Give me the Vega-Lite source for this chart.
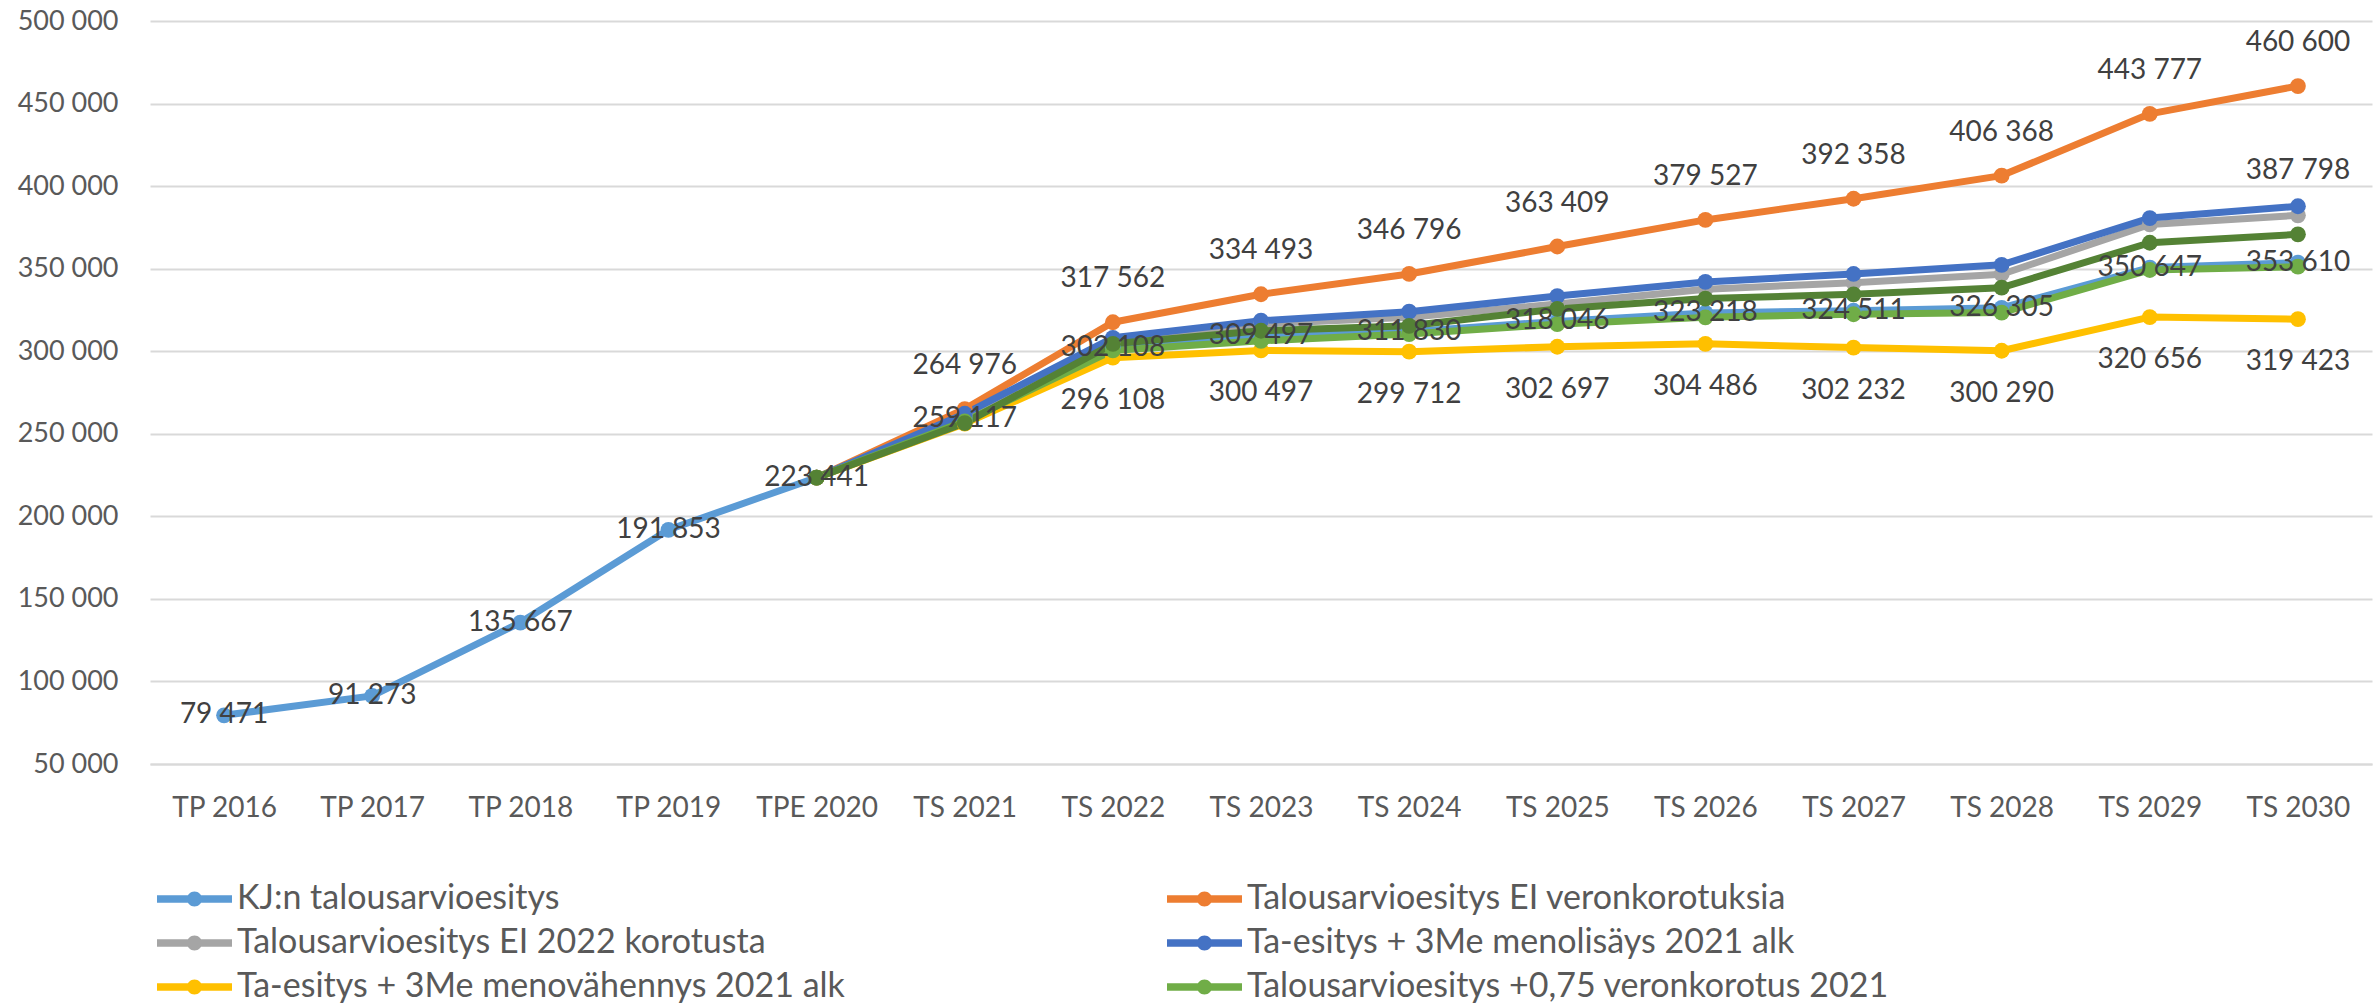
{
  "$schema": "https://vega.github.io/schema/vega-lite/v6.json",
  "width": 2222,
  "height": 743,
  "autosize": {"type": "none"},
  "padding": {"left": 150, "top": 21, "right": 7, "bottom": 241},
  "background": "white",
  "config": {
    "locale": {"number": {"decimal": ",", "thousands": " ", "grouping": [3], "currency": ["", " €"]}},
    "view": {"stroke": null},
    "font": "Lato"
  },
  "data": {"values": [
    {"series": "KJ:n talousarvioesitys", "period": "TP 2016", "value": 79471},
    {"series": "KJ:n talousarvioesitys", "period": "TP 2017", "value": 91273},
    {"series": "KJ:n talousarvioesitys", "period": "TP 2018", "value": 135667},
    {"series": "KJ:n talousarvioesitys", "period": "TP 2019", "value": 191853},
    {"series": "KJ:n talousarvioesitys", "period": "TPE 2020", "value": 223441},
    {"series": "KJ:n talousarvioesitys", "period": "TS 2021", "value": 259117},
    {"series": "KJ:n talousarvioesitys", "period": "TS 2022", "value": 302108},
    {"series": "KJ:n talousarvioesitys", "period": "TS 2023", "value": 309497},
    {"series": "KJ:n talousarvioesitys", "period": "TS 2024", "value": 311830},
    {"series": "KJ:n talousarvioesitys", "period": "TS 2025", "value": 318046},
    {"series": "KJ:n talousarvioesitys", "period": "TS 2026", "value": 323218},
    {"series": "KJ:n talousarvioesitys", "period": "TS 2027", "value": 324511},
    {"series": "KJ:n talousarvioesitys", "period": "TS 2028", "value": 326305},
    {"series": "KJ:n talousarvioesitys", "period": "TS 2029", "value": 350647},
    {"series": "KJ:n talousarvioesitys", "period": "TS 2030", "value": 353610},

    {"series": "Talousarvioesitys EI veronkorotuksia", "period": "TPE 2020", "value": 223441},
    {"series": "Talousarvioesitys EI veronkorotuksia", "period": "TS 2021", "value": 264976},
    {"series": "Talousarvioesitys EI veronkorotuksia", "period": "TS 2022", "value": 317562},
    {"series": "Talousarvioesitys EI veronkorotuksia", "period": "TS 2023", "value": 334493},
    {"series": "Talousarvioesitys EI veronkorotuksia", "period": "TS 2024", "value": 346796},
    {"series": "Talousarvioesitys EI veronkorotuksia", "period": "TS 2025", "value": 363409},
    {"series": "Talousarvioesitys EI veronkorotuksia", "period": "TS 2026", "value": 379527},
    {"series": "Talousarvioesitys EI veronkorotuksia", "period": "TS 2027", "value": 392358},
    {"series": "Talousarvioesitys EI veronkorotuksia", "period": "TS 2028", "value": 406368},
    {"series": "Talousarvioesitys EI veronkorotuksia", "period": "TS 2029", "value": 443777},
    {"series": "Talousarvioesitys EI veronkorotuksia", "period": "TS 2030", "value": 460600},

    {"series": "Talousarvioesitys EI 2022 korotusta", "period": "TPE 2020", "value": 223441},
    {"series": "Talousarvioesitys EI 2022 korotusta", "period": "TS 2021", "value": 261500},
    {"series": "Talousarvioesitys EI 2022 korotusta", "period": "TS 2022", "value": 306000},
    {"series": "Talousarvioesitys EI 2022 korotusta", "period": "TS 2023", "value": 316500},
    {"series": "Talousarvioesitys EI 2022 korotusta", "period": "TS 2024", "value": 320500},
    {"series": "Talousarvioesitys EI 2022 korotusta", "period": "TS 2025", "value": 328600},
    {"series": "Talousarvioesitys EI 2022 korotusta", "period": "TS 2026", "value": 337500},
    {"series": "Talousarvioesitys EI 2022 korotusta", "period": "TS 2027", "value": 341500},
    {"series": "Talousarvioesitys EI 2022 korotusta", "period": "TS 2028", "value": 346600},
    {"series": "Talousarvioesitys EI 2022 korotusta", "period": "TS 2029", "value": 376800},
    {"series": "Talousarvioesitys EI 2022 korotusta", "period": "TS 2030", "value": 382300},

    {"series": "Ta-esitys +  3Me menolisäys 2021 alk", "period": "TPE 2020", "value": 223441},
    {"series": "Ta-esitys +  3Me menolisäys 2021 alk", "period": "TS 2021", "value": 262117},
    {"series": "Ta-esitys +  3Me menolisäys 2021 alk", "period": "TS 2022", "value": 308108},
    {"series": "Ta-esitys +  3Me menolisäys 2021 alk", "period": "TS 2023", "value": 318497},
    {"series": "Ta-esitys +  3Me menolisäys 2021 alk", "period": "TS 2024", "value": 323948},
    {"series": "Ta-esitys +  3Me menolisäys 2021 alk", "period": "TS 2025", "value": 333395},
    {"series": "Ta-esitys +  3Me menolisäys 2021 alk", "period": "TS 2026", "value": 341950},
    {"series": "Ta-esitys +  3Me menolisäys 2021 alk", "period": "TS 2027", "value": 346790},
    {"series": "Ta-esitys +  3Me menolisäys 2021 alk", "period": "TS 2028", "value": 352320},
    {"series": "Ta-esitys +  3Me menolisäys 2021 alk", "period": "TS 2029", "value": 380638},
    {"series": "Ta-esitys +  3Me menolisäys 2021 alk", "period": "TS 2030", "value": 387798},

    {"series": "Ta-esitys + 3Me menovähennys 2021 alk", "period": "TPE 2020", "value": 223441},
    {"series": "Ta-esitys + 3Me menovähennys 2021 alk", "period": "TS 2021", "value": 256117},
    {"series": "Ta-esitys + 3Me menovähennys 2021 alk", "period": "TS 2022", "value": 296108},
    {"series": "Ta-esitys + 3Me menovähennys 2021 alk", "period": "TS 2023", "value": 300497},
    {"series": "Ta-esitys + 3Me menovähennys 2021 alk", "period": "TS 2024", "value": 299712},
    {"series": "Ta-esitys + 3Me menovähennys 2021 alk", "period": "TS 2025", "value": 302697},
    {"series": "Ta-esitys + 3Me menovähennys 2021 alk", "period": "TS 2026", "value": 304486},
    {"series": "Ta-esitys + 3Me menovähennys 2021 alk", "period": "TS 2027", "value": 302232},
    {"series": "Ta-esitys + 3Me menovähennys 2021 alk", "period": "TS 2028", "value": 300290},
    {"series": "Ta-esitys + 3Me menovähennys 2021 alk", "period": "TS 2029", "value": 320656},
    {"series": "Ta-esitys + 3Me menovähennys 2021 alk", "period": "TS 2030", "value": 319423},

    {"series": "Talousarvioesitys +0,75 veronkorotus 2021", "period": "TPE 2020", "value": 223441},
    {"series": "Talousarvioesitys +0,75 veronkorotus 2021", "period": "TS 2021", "value": 257500},
    {"series": "Talousarvioesitys +0,75 veronkorotus 2021", "period": "TS 2022", "value": 300500},
    {"series": "Talousarvioesitys +0,75 veronkorotus 2021", "period": "TS 2023", "value": 306300},
    {"series": "Talousarvioesitys +0,75 veronkorotus 2021", "period": "TS 2024", "value": 310400},
    {"series": "Talousarvioesitys +0,75 veronkorotus 2021", "period": "TS 2025", "value": 316400},
    {"series": "Talousarvioesitys +0,75 veronkorotus 2021", "period": "TS 2026", "value": 320500},
    {"series": "Talousarvioesitys +0,75 veronkorotus 2021", "period": "TS 2027", "value": 322400},
    {"series": "Talousarvioesitys +0,75 veronkorotus 2021", "period": "TS 2028", "value": 323400},
    {"series": "Talousarvioesitys +0,75 veronkorotus 2021", "period": "TS 2029", "value": 349200},
    {"series": "Talousarvioesitys +0,75 veronkorotus 2021", "period": "TS 2030", "value": 351200},

    {"series": "Sarja7", "period": "TPE 2020", "value": 223441},
    {"series": "Sarja7", "period": "TS 2021", "value": 256500},
    {"series": "Sarja7", "period": "TS 2022", "value": 304500},
    {"series": "Sarja7", "period": "TS 2023", "value": 312400},
    {"series": "Sarja7", "period": "TS 2024", "value": 315400},
    {"series": "Sarja7", "period": "TS 2025", "value": 325600},
    {"series": "Sarja7", "period": "TS 2026", "value": 331900},
    {"series": "Sarja7", "period": "TS 2027", "value": 334480},
    {"series": "Sarja7", "period": "TS 2028", "value": 338500},
    {"series": "Sarja7", "period": "TS 2029", "value": 365700},
    {"series": "Sarja7", "period": "TS 2030", "value": 370800}
  ]},
  "encoding": {
    "x": {
      "field": "period", "type": "ordinal",
      "sort": ["TP 2016","TP 2017","TP 2018","TP 2019","TPE 2020","TS 2021","TS 2022","TS 2023","TS 2024","TS 2025","TS 2026","TS 2027","TS 2028","TS 2029","TS 2030"],
      "scale": {"type": "point", "padding": 0.5},
      "axis": {"title": null, "grid": false, "ticks": false, "domain": true, "domainColor": "#D9D9D9", "domainWidth": 2, "labelAngle": 0, "labelFontSize": 28, "labelColor": "#595959", "labelPadding": 30, "labelFont": "Lato"}
    },
    "y": {
      "field": "value", "type": "quantitative",
      "scale": {"domain": [50000, 500000], "nice": false, "zero": false},
      "axis": {"title": null, "domain": false, "ticks": false, "grid": true, "gridColor": "#D9D9D9", "gridWidth": 2, "values": [50000,100000,150000,200000,250000,300000,350000,400000,450000,500000], "format": ",d", "labelFontSize": 27, "labelColor": "#595959", "labelPadding": 32, "labelFont": "Lato"}
    },
    "color": {
      "field": "series", "type": "nominal",
      "scale": {
        "domain": ["KJ:n talousarvioesitys","Talousarvioesitys EI veronkorotuksia","Talousarvioesitys EI 2022 korotusta","Ta-esitys +  3Me menolisäys 2021 alk","Ta-esitys + 3Me menovähennys 2021 alk","Talousarvioesitys +0,75 veronkorotus 2021","Sarja7"],
        "range": ["#5B9BD5","#ED7D31","#A5A5A5","#4472C4","#FFC000","#70AD47","#548235"]
      },
      "legend": {
        "title": null, "orient": "none", "legendX": 5, "legendY": 861, "columns": 2, "padding": 0,
        "values": ["KJ:n talousarvioesitys","Talousarvioesitys EI 2022 korotusta","Ta-esitys + 3Me menovähennys 2021 alk","Talousarvioesitys EI veronkorotuksia","Ta-esitys +  3Me menolisäys 2021 alk","Talousarvioesitys +0,75 veronkorotus 2021"],
        "symbolType": "M-1,-0.25 L4,-0.25 L4,0.25 L-1,0.25 Z M1.0,0 A0.5,0.5 0 1,1 2.0,0 A0.5,0.5 0 1,1 1.0,0 Z",
        "symbolSize": 900, "symbolStrokeWidth": 0, "symbolOpacity": 1,
        "labelFontSize": 34, "labelFont": "Lato", "labelColor": "#595959", "labelOffset": 48, "labelLimit": 0,
        "rowPadding": 10, "columnPadding": 320,
        "encode": {"symbols": {"update": {"fill": {"scale": "color", "field": "value"}, "stroke": {"value": "transparent"}}}}
      }
    }
  },
  "layer": [
    {"mark": {"type": "line", "strokeWidth": 7, "strokeJoin": "round", "strokeCap": "round"}},
    {"mark": {"type": "circle", "size": 250, "opacity": 1}},
    {
      "transform": [{"filter": "datum.series === 'KJ:n talousarvioesitys'"}],
      "mark": {"type": "text", "align": "center", "baseline": "middle", "fontSize": 28, "font": "Lato"},
      "encoding": {"text": {"field": "value", "type": "quantitative", "format": ",d"}, "color": {"value": "#404040"}}
    },
    {
      "transform": [{"filter": "datum.series === 'Talousarvioesitys EI veronkorotuksia' && datum.period !== 'TPE 2020'"}],
      "mark": {"type": "text", "align": "center", "baseline": "middle", "fontSize": 28, "font": "Lato", "dy": -43},
      "encoding": {"text": {"field": "value", "type": "quantitative", "format": ",d"}, "color": {"value": "#404040"}}
    },
    {
      "transform": [{"filter": "datum.series === 'Ta-esitys + 3Me menovähennys 2021 alk' && datum.period !== 'TPE 2020' && datum.period !== 'TS 2021'"}],
      "mark": {"type": "text", "align": "center", "baseline": "middle", "fontSize": 28, "font": "Lato", "dy": 43},
      "encoding": {"text": {"field": "value", "type": "quantitative", "format": ",d"}, "color": {"value": "#404040"}}
    },
    {
      "transform": [{"filter": "datum.series === 'Ta-esitys +  3Me menolisäys 2021 alk' && datum.period === 'TS 2030'"}],
      "mark": {"type": "text", "align": "center", "baseline": "middle", "fontSize": 28, "font": "Lato", "dy": -35},
      "encoding": {"text": {"field": "value", "type": "quantitative", "format": ",d"}, "color": {"value": "#404040"}}
    }
  ]
}
